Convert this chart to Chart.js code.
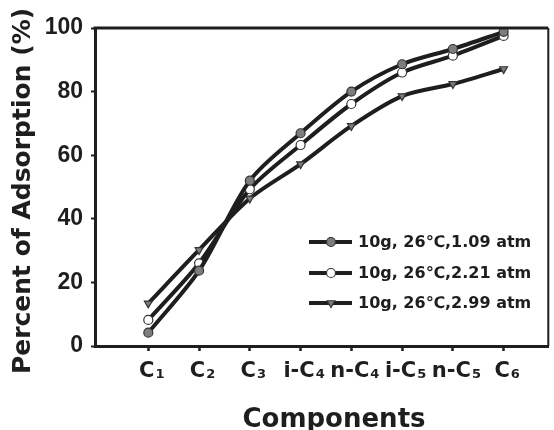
<!DOCTYPE html>
<html>
<head>
<meta charset="utf-8">
<script src="https://cdn.jsdelivr.net/npm/chart.js@4.4.1/dist/chart.umd.min.js"></script>
<style>
  html,body{margin:0;padding:0;background:#fff;}
  #wrap{width:554px;height:430px;}
</style>
</head>
<body>
<div id="wrap"><canvas id="c" width="554" height="430"></canvas></div>
<script>
/* ── DATA ── */
const components = ['C1','C2','C3','i-C4','n-C4','i-C5','n-C5','C6'];
const yTicks = [0,20,40,60,80,100];
const seriesNames = ['10g, 26\u2103,1.09 atm','10g, 26\u2103,2.21 atm','10g, 26\u2103,2.99 atm'];
const ads109 = [4.2, 23.7, 52.0, 66.9, 80.0, 88.6, 93.4, 98.8];
const ads221 = [8.2, 26.0, 49.3, 63.2, 76.1, 86.0, 91.3, 97.5];
const ads299 = [13.4, 30.2, 46.4, 57.2, 69.2, 78.6, 82.4, 87.1];

const INK = '#1e1e1e';
const GRAY = '#7d7d7d';
const pts = arr => arr.map((v,i)=>({x:i+1, y:v}));

const styles = [
  {pointStyle:'circle',   bg:GRAY,   r:4.5},
  {pointStyle:'circle',   bg:'#fff', r:4.5},
  {pointStyle:'triangle', bg:GRAY,   r:4.5, rot:180}
];
const seriesData = [ads109, ads221, ads299];

const datasets = seriesData.map((d,k)=>({
  label: seriesNames[k],
  data: pts(d),
  borderColor: INK,
  borderWidth: 4,
  tension: 0.3,
  pointStyle: styles[k].pointStyle,
  pointRotation: styles[k].rot||0,
  pointRadius: styles[k].r,
  pointBackgroundColor: styles[k].bg,
  pointBorderColor: '#333',
  pointBorderWidth: 1.2
}));

/* ── EXTRAS: frame, subscripted x labels, titles, legend ── */
const extras = {
  id:'extras',
  afterDraw(chart){
    const {ctx, chartArea:a, scales:{x}} = chart;
    ctx.save();
    // top + right frame
    ctx.strokeStyle = INK; ctx.lineCap = 'butt';
    ctx.lineWidth = 3;
    ctx.beginPath(); ctx.moveTo(a.left-1.5, a.top); ctx.lineTo(a.right, a.top); ctx.stroke();
    ctx.lineWidth = 2;
    ctx.beginPath(); ctx.moveTo(a.right, a.top); ctx.lineTo(a.right, a.bottom); ctx.stroke();

    // x tick labels with subscript digits
    ctx.fillStyle = INK; ctx.textBaseline = 'alphabetic'; ctx.textAlign = 'left';
    components.forEach((lbl,i)=>{
      const m = lbl.match(/^(.*?)(\d+)$/);
      const base = m ? m[1] : lbl, sub = m ? m[2] : '';
      ctx.font = 'bold 21px "DejaVu Sans"';
      const wb = ctx.measureText(base).width;
      ctx.font = 'bold 13px "DejaVu Sans"';
      const ws = ctx.measureText(sub).width;
      const px = x.getPixelForValue(i+1) + 3;
      const x0 = px - (wb+ws)/2;
      ctx.font = 'bold 21px "DejaVu Sans"';
      ctx.fillText(base, x0, 377);
      ctx.font = 'bold 13px "DejaVu Sans"';
      ctx.fillText(sub, x0+wb+1, 378);
    });

    // axis titles
    ctx.textAlign = 'center';
    ctx.font = 'bold 26px "DejaVu Sans"';
    ctx.fillText('Components', 334, 427);
    ctx.translate(23, 191); ctx.rotate(-Math.PI/2);
    ctx.textBaseline = 'middle';
    ctx.font = 'bold 25px "DejaVu Sans"';
    ctx.fillText('Percent of Adsorption (%)', 0, 0);
    ctx.setTransform(1,0,0,1,0,0);

    // legend
    const rows = [242, 273, 303];
    seriesNames.forEach((name,k)=>{
      const y = rows[k];
      ctx.strokeStyle = INK; ctx.lineWidth = 4;
      ctx.beginPath(); ctx.moveTo(309, y); ctx.lineTo(352, y); ctx.stroke();
      ctx.fillStyle = styles[k].bg; ctx.strokeStyle = '#333'; ctx.lineWidth = 1.2;
      Chart.helpers.drawPoint(ctx, {pointStyle:styles[k].pointStyle, radius:styles[k].r, rotation:styles[k].rot||0, borderWidth:1.2}, 331, y);
      ctx.fillStyle = INK; ctx.textAlign = 'left'; ctx.textBaseline = 'middle';
      ctx.font = 'bold 16px "DejaVu Sans"';
      ctx.fillText(name, 358, y+1);
    });
    ctx.restore();
  }
};

new Chart(document.getElementById('c').getContext('2d'), {
  type:'line',
  data:{ datasets },
  plugins:[extras],
  options:{
    responsive:false,
    animation:false,
    devicePixelRatio:1,
    layout:{ padding:{ top:28, right:5, left:0, bottom:0 } },
    plugins:{ legend:{display:false}, tooltip:{enabled:false} },
    scales:{
      x:{
        type:'linear', min:-0.05, max:8.88,
        afterBuildTicks: s => { s.ticks = components.map((_,i)=>({value:i+1})); },
        afterFit: s => { s.height = 84; },
        ticks:{ display:false },
        grid:{ drawOnChartArea:false, drawTicks:true, tickLength:5, tickWidth:2.5, tickColor:INK },
        border:{ width:3, color:INK }
      },
      y:{
        min:0, max:100,
        afterBuildTicks: s => { s.ticks = yTicks.map(v=>({value:v})); },
        afterFit: s => { s.width = 95; },
        ticks:{ color:INK, padding:8, font:{ family:'"Liberation Sans"', weight:'bold', size:23 } },
        grid:{ drawOnChartArea:false, drawTicks:true, tickLength:4, tickWidth:2, tickColor:INK },
        border:{ width:3, color:INK }
      }
    }
  }
});
</script>
</body>
</html>
